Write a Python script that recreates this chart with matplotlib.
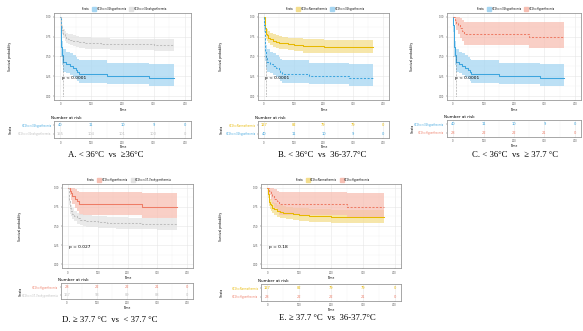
import matplotlib.pyplot as plt
from matplotlib.lines import Line2D

# Kaplan-Meier steps (time in days)
hypo_t = [0, 1, 2, 3, 4, 5, 6, 8, 10, 20, 30, 40, 50, 55, 60, 150, 285, 365]
hypo_s = [1.0, 0.90, 0.80, 0.70, 0.62, 0.57, 0.52, 0.475, 0.425, 0.40, 0.375, 0.35, 0.325, 0.30, 0.275, 0.25, 0.225, 0.225]
hypo_lo = [1.0, 0.81, 0.69, 0.57, 0.49, 0.44, 0.39, 0.35, 0.31, 0.29, 0.26, 0.24, 0.22, 0.19, 0.17, 0.15, 0.13, 0.13]
hypo_hi = [1.0, 1.0, 0.93, 0.86, 0.79, 0.74, 0.69, 0.65, 0.59, 0.56, 0.54, 0.52, 0.49, 0.47, 0.45, 0.42, 0.40, 0.40]

nohypo_t = [0, 2, 4, 6, 8, 10, 15, 20, 25, 30, 40, 50, 60, 80, 100, 130, 160, 200, 250, 300, 365]
nohypo_s = [1.0, 0.93, 0.88, 0.84, 0.81, 0.79, 0.76, 0.74, 0.725, 0.71, 0.70, 0.69, 0.68, 0.675, 0.671, 0.66, 0.655, 0.652, 0.652, 0.645, 0.645]
nohypo_lo = [1.0, 0.89, 0.83, 0.78, 0.75, 0.73, 0.70, 0.67, 0.655, 0.64, 0.63, 0.62, 0.61, 0.60, 0.60, 0.59, 0.585, 0.58, 0.58, 0.575, 0.575]
nohypo_hi = [1.0, 0.97, 0.93, 0.90, 0.87, 0.85, 0.82, 0.80, 0.79, 0.78, 0.77, 0.76, 0.75, 0.745, 0.74, 0.73, 0.725, 0.72, 0.72, 0.715, 0.715]

normo_t = [0, 2, 4, 6, 8, 10, 15, 20, 30, 40, 50, 60, 80, 100, 130, 200, 365]
normo_s = [1.0, 0.92, 0.86, 0.82, 0.79, 0.77, 0.74, 0.72, 0.70, 0.685, 0.675, 0.665, 0.655, 0.646, 0.63, 0.622, 0.622]
normo_lo = [1.0, 0.87, 0.80, 0.76, 0.72, 0.70, 0.67, 0.65, 0.62, 0.61, 0.60, 0.59, 0.58, 0.57, 0.55, 0.54, 0.54]
normo_hi = [1.0, 0.97, 0.92, 0.89, 0.86, 0.85, 0.82, 0.80, 0.78, 0.77, 0.76, 0.75, 0.74, 0.73, 0.72, 0.71, 0.71]

hyper_t = [0, 6, 10, 15, 22, 30, 36, 250, 365]
hyper_s = [1.0, 0.964, 0.929, 0.893, 0.857, 0.821, 0.786, 0.75, 0.75]
hyper_lo = [1.0, 0.90, 0.84, 0.79, 0.74, 0.70, 0.65, 0.61, 0.61]
hyper_hi = [1.0, 1.0, 1.0, 1.0, 0.99, 0.96, 0.94, 0.93, 0.93]

nonhyper_t = [0, 2, 4, 6, 8, 10, 15, 20, 30, 40, 50, 60, 80, 100, 130, 160, 200, 250, 300, 365]
nonhyper_s = [1.0, 0.90, 0.83, 0.77, 0.73, 0.70, 0.66, 0.63, 0.60, 0.585, 0.575, 0.565, 0.56, 0.557, 0.545, 0.54, 0.533, 0.53, 0.527, 0.527]
nonhyper_lo = [1.0, 0.85, 0.77, 0.70, 0.66, 0.63, 0.59, 0.56, 0.53, 0.51, 0.50, 0.49, 0.485, 0.48, 0.47, 0.465, 0.46, 0.455, 0.45, 0.45]
nonhyper_hi = [1.0, 0.95, 0.89, 0.84, 0.80, 0.77, 0.73, 0.70, 0.67, 0.66, 0.65, 0.64, 0.635, 0.63, 0.62, 0.615, 0.61, 0.605, 0.60, 0.60]

# number at risk
risk_times = [0, 100, 200, 300, 400]
hypo_risk = [40, 11, 10, 9, 0]
nohypo_risk = [155, 104, 101, 100, 0]
normo_risk = [127, 82, 79, 79, 0]
hyper_risk = [28, 22, 22, 21, 0]
nonhyper_risk = [167, 93, 89, 88, 0]

groups = {
    'hypo': dict(t=hypo_t, s=hypo_s, lo=hypo_lo, hi=hypo_hi, risk=hypo_risk,
                 label='H72h=<36hypothermia', color='#3DA5DE', fill='#A6D6F2'),
    'nohypo': dict(t=nohypo_t, s=nohypo_s, lo=nohypo_lo, hi=nohypo_hi, risk=nohypo_risk,
                   label='H72h=>36nohypothermia', color='#BEBEBE', fill='#E3E3E3'),
    'normo': dict(t=normo_t, s=normo_s, lo=normo_lo, hi=normo_hi, risk=normo_risk,
                  label='H72h=Normothermia', color='#E7B800', fill='#F4DE8E'),
    'hyper': dict(t=hyper_t, s=hyper_s, lo=hyper_lo, hi=hyper_hi, risk=hyper_risk,
                  label='H72h=Hyperthermia', color='#EE7C66', fill='#F7BFB3'),
    'nonhyper': dict(t=nonhyper_t, s=nonhyper_s, lo=nonhyper_lo, hi=nonhyper_hi, risk=nonhyper_risk,
                     label='H72h=<37.7nohyperthermia', color='#BEBEBE', fill='#E3E3E3'),
}

W, H = 583, 331

# (strata, p value, caption, km box px, risk box px, caption px, y label x px)
panels = [
    (['hypo', 'nohypo'], 'p < 0.0001', 'A. < 36°C  vs  ≥36°C',
     (54, 191, 13, 100), (54, 191, 121, 138), (106, 155), 12),
    (['normo', 'hypo'], 'p < 0.0001', 'B. < 36°C  vs  36-37.7°C',
     (258, 389, 13, 100), (258, 389, 121, 138), (322, 155), 223),
    (['hypo', 'hyper'], 'p < 0.0001', 'C. < 36°C  vs  ≥ 37.7 °C',
     (447, 581, 13, 100), (447, 581, 120, 137), (515, 155), 414),
    (['hyper', 'nonhyper'], 'p = 0.027', 'D. ≥ 37.7 °C  vs  < 37.7 °C',
     (62, 193, 184, 268), (61, 193, 283, 299), (110, 320), 22),
    (['normo', 'hyper'], 'p = 0.18', 'E. ≥ 37.7 °C  vs  36-37.7°C',
     (261, 401, 184, 268), (261, 401, 284, 301), (327, 318), 223),
]


def box(px):
    l, r, t, b = px
    return [l / W, 1 - b / H, (r - l) / W, (b - t) / H]


def style(ax):
    ax.set_xlim(-20, 420)
    ax.set_xticks(risk_times)
    ax.set_xticks([50, 150, 250, 350], minor=True)
    ax.grid(True, which='major', color='#E6E6E6', lw=0.4)
    ax.grid(True, which='minor', color='#F2F2F2', lw=0.3)
    ax.set_axisbelow(True)
    ax.tick_params(which='both', labelsize=1.8, length=1, width=0.3, pad=0.8,
                   colors='#555555')
    ax.tick_params(which='minor', length=0)
    for sp in ax.spines.values():
        sp.set_color('#999999')
        sp.set_linewidth(0.6)


fig = plt.figure(figsize=(W / 100, H / 100), dpi=100)

for keys, pval, caption, km_px, risk_px, cap_px, ylab_x in panels:
    ax = fig.add_axes(box(km_px))
    style(ax)
    ax.set_ylim(-0.05, 1.05)
    ax.set_yticks([0, 0.25, 0.5, 0.75, 1.0])
    ax.set_yticks([0.125, 0.375, 0.625, 0.875], minor=True)
    ax.set_yticklabels(['0.00', '0.25', '0.50', '0.75', '1.00'])

    handles = [Line2D([], [], lw=0, label='Strata')]
    for i, k in enumerate(keys):
        g = groups[k]
        ls = '-' if i == 0 else (0, (2, 1.5))
        ax.fill_between(g['t'], g['lo'], g['hi'], step='post', color=g['fill'],
                        alpha=0.75, lw=0)
        ax.step(g['t'], g['s'], where='post', color=g['color'], lw=0.75, ls=ls)
        handles.append(Line2D([], [], color=g['color'], lw=0.7, marker='s', ms=3,
                              mfc=g['fill'], mec=g['fill'], label=g['label']))
        # median survival dotted line
        med = next((t for t, s in zip(g['t'], g['s']) if s <= 0.5), None)
        if med is not None:
            ax.plot([med, med], [0, 0.5], color='#444444', lw=0.4, ls=':')
            ax.plot([0, med], [0.5, 0.5], color='#444444', lw=0.4, ls=':')

    ax.text(5, 0.2, pval, fontsize=3.2, ha='left', va='bottom')
    ax.set_xlabel('Time', fontsize=2.2, labelpad=0.8)
    ax.set_ylabel('Survival probability', fontsize=2.2)
    ax.yaxis.set_label_coords((ylab_x - km_px[0]) / (km_px[1] - km_px[0]), 0.5)
    ax.legend(handles=handles, loc='lower center', bbox_to_anchor=(0.5, 1.01),
              ncol=3, fontsize=1.8, frameon=False, handlelength=1.2,
              handletextpad=0.4, columnspacing=1.2, borderpad=0)

    # risk table
    rx = fig.add_axes(box(risk_px))
    style(rx)
    rx.set_ylim(-0.5, len(keys) - 0.5)
    rx.set_yticks(range(len(keys)))
    rx.set_yticklabels([groups[k]['label'] for k in keys][::-1])
    rx.grid(False, axis='y')
    for lab, k in zip(rx.get_yticklabels(), keys[::-1]):
        lab.set_color(groups[k]['color'])
    for j, k in enumerate(keys[::-1]):
        g = groups[k]
        for t, n in zip(risk_times, g['risk']):
            rx.text(t, j, str(n), color=g['color'], fontsize=2.6,
                    ha='center', va='center')
    rx.set_xlabel('Time', fontsize=2.2, labelpad=0.5)
    rx.set_ylabel('Strata', fontsize=2.2)
    rx.yaxis.set_label_coords((ylab_x + 1 - risk_px[0]) / (risk_px[1] - risk_px[0]), 0.5)
    rx.set_title('Number at risk', fontsize=3, loc='left', pad=1.5, x=-0.02)

    fig.text(cap_px[0] / W, 1 - cap_px[1] / H, caption, fontsize=6.3,
             family='Liberation Serif', ha='center', va='center')

fig.savefig('out.png', dpi=100)
